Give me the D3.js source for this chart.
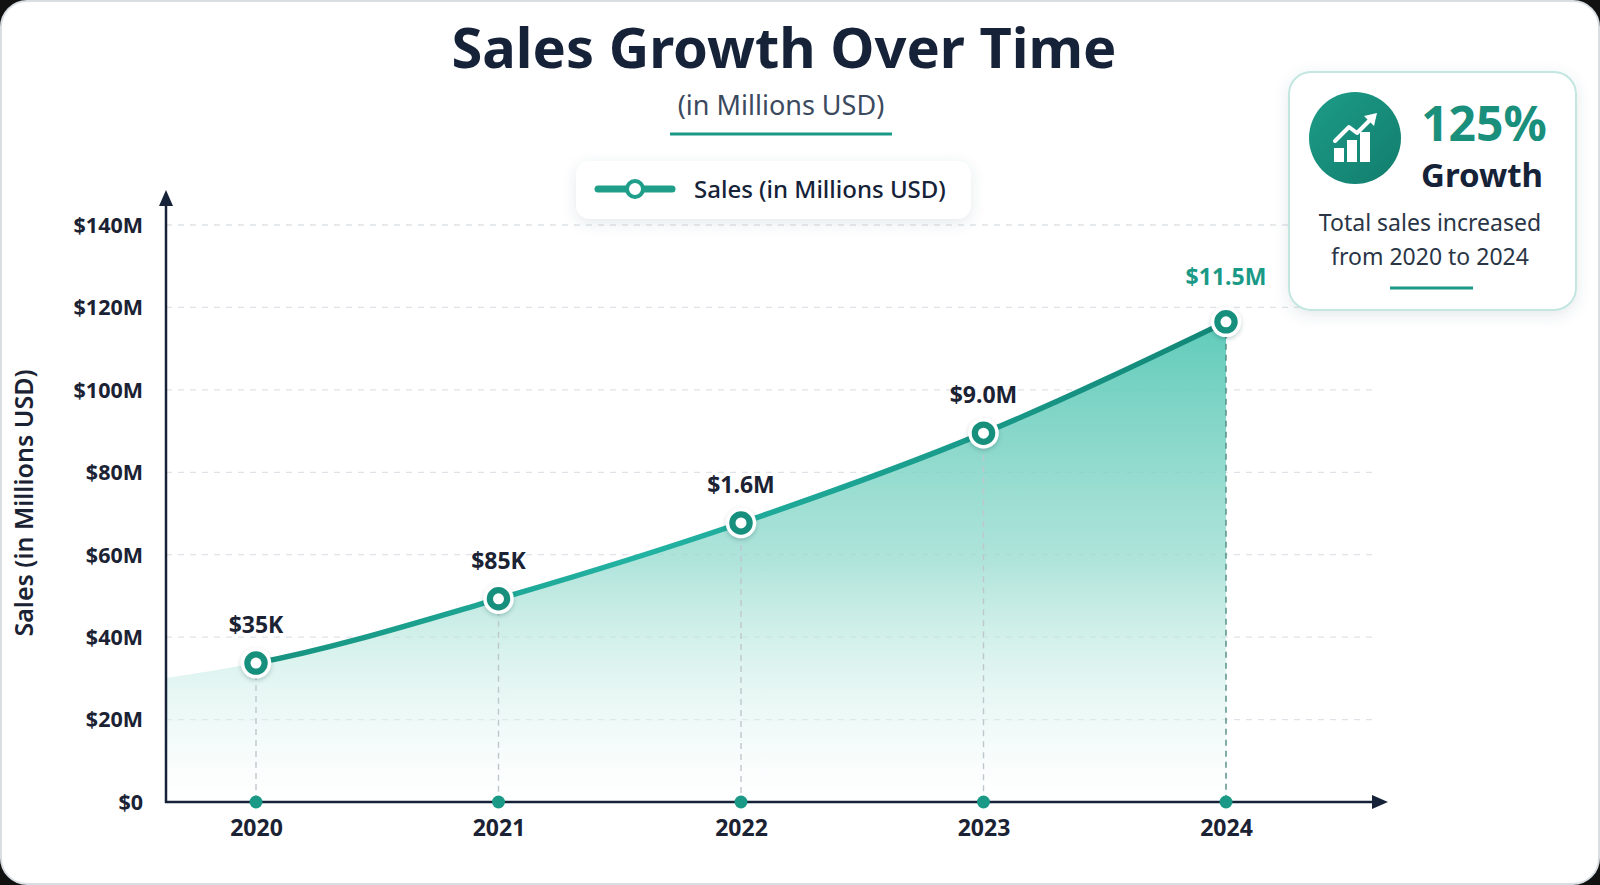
<!DOCTYPE html>
<html>
<head>
<meta charset="utf-8">
<script src="https://cdn.jsdelivr.net/npm/d3@7"></script>
<style>
  html, body { margin: 0; padding: 0; background: #111; }
  svg { display: block; font-family: 'Noto Sans', 'Open Sans', sans-serif; }
  .yAxis text, .xAxis text { font-family: 'Noto Sans', sans-serif; font-weight: 700; fill: #1a2233; }
</style>
</head>
<body>
<div id="chart"></div>
<script>
// values
const years = [2020, 2021, 2022, 2023, 2024]
const sales = [33.7, 49.3, 67.7, 89.5, 116.5]
const valueLabels = ['$35K', '$85K', '$1.6M', '$9.0M', '$11.5M']
const yTicks = [0, 20, 40, 60, 80, 100, 120, 140]
// where the filled area meets the y axis, left of 2020
const areaStartValue = 30.1

const width = 1600
const height = 885
const teal = '#1a9a86'
const ink = '#152238'

const svg = d3.select('#chart')
  .append('svg')
  .attr('width', width)
  .attr('height', height)

const defs = svg.append('defs')

const shadow = defs.append('filter').attr('id', 'shadow')
  .attr('x', '-20%').attr('y', '-30%').attr('width', '140%').attr('height', '170%')
shadow.append('feDropShadow')
  .attr('dx', 0).attr('dy', 4).attr('stdDeviation', 7)
  .attr('flood-color', '#4a6b70').attr('flood-opacity', 0.14)

const ringShadow = defs.append('filter').attr('id', 'ringShadow')
  .attr('x', '-50%').attr('y', '-50%').attr('width', '200%').attr('height', '200%')
ringShadow.append('feDropShadow')
  .attr('dx', 0).attr('dy', 2).attr('stdDeviation', 2)
  .attr('flood-color', '#0d4a42').attr('flood-opacity', 0.25)

// background card
svg.append('rect')
  .attr('x', 1).attr('y', 1)
  .attr('width', width - 2).attr('height', height - 2)
  .attr('rx', 26)
  .attr('fill', '#fff')
  .attr('stroke', '#d9dee3')
  .attr('stroke-width', 2)

// scales
const xScale = d3.scaleLinear().domain([2020, 2024]).range([256, 1226])
const yScale = d3.scaleLinear().domain([0, 140]).range([802, 225])
const x0 = 166
const xEnd = 1388
const gridEnd = 1372
const startYear = xScale.invert(x0)

const points = years.map((y, i) => ({ year: y, value: sales[i], label: valueLabels[i] }))

// title
svg.append('text')
  .attr('x', 784).attr('y', 68)
  .attr('text-anchor', 'middle')
  .style('font-size', '56px').style('font-weight', 700)
  .attr('fill', ink)
  .text('Sales Growth Over Time')

svg.append('text')
  .attr('x', 781).attr('y', 115)
  .attr('text-anchor', 'middle')
  .style('font-size', '27px')
  .attr('fill', '#3b4a5e')
  .text('(in Millions USD)')

svg.append('line')
  .attr('x1', 670).attr('x2', 892)
  .attr('y1', 134).attr('y2', 134)
  .attr('stroke', teal).attr('stroke-width', 3)

// grid lines
svg.append('g')
  .selectAll('line')
  .data(yTicks.filter(d => d > 0))
  .join('line')
  .attr('x1', x0).attr('x2', gridEnd)
  .attr('y1', d => yScale(d)).attr('y2', d => yScale(d))
  .attr('stroke', '#dfe3e7')
  .attr('stroke-width', 1.3)
  .attr('stroke-dasharray', '6,6')

// area
const areaGrad = defs.append('linearGradient')
  .attr('id', 'areaGrad')
  .attr('gradientUnits', 'userSpaceOnUse')
  .attr('x1', 0).attr('x2', 0)
  .attr('y1', yScale(d3.max(sales))).attr('y2', yScale(0))
areaGrad.append('stop').attr('offset', '0%').attr('stop-color', '#57c8b6').attr('stop-opacity', 0.95)
areaGrad.append('stop').attr('offset', '50%').attr('stop-color', '#95dbce').attr('stop-opacity', 0.75)
areaGrad.append('stop').attr('offset', '100%').attr('stop-color', '#ffffff').attr('stop-opacity', 0.3)

const areaData = [{ year: startYear, value: areaStartValue }].concat(points)

const area = d3.area()
  .x(d => xScale(d.year))
  .y0(yScale(0))
  .y1(d => yScale(d.value))
  .curve(d3.curveMonotoneX)

svg.append('path')
  .datum(areaData)
  .attr('d', area)
  .attr('fill', 'url(#areaGrad)')

// vertical guides
svg.append('g')
  .selectAll('line')
  .data(points)
  .join('line')
  .attr('x1', d => xScale(d.year)).attr('x2', d => xScale(d.year))
  .attr('y1', d => yScale(d.value)).attr('y2', yScale(0))
  .attr('stroke', (d, i) => i === points.length - 1 ? '#4f8a82' : '#bfc7ce')
  .attr('stroke-width', 1.4)
  .attr('stroke-dasharray', '6,5')

// line
const lineGrad = defs.append('linearGradient')
  .attr('id', 'lineGrad')
  .attr('gradientUnits', 'userSpaceOnUse')
  .attr('x1', xScale(2020)).attr('x2', xScale(2024))
  .attr('y1', 0).attr('y2', 0)
lineGrad.append('stop').attr('offset', '0%').attr('stop-color', '#17927f')
lineGrad.append('stop').attr('offset', '40%').attr('stop-color', '#22b3a3')
lineGrad.append('stop').attr('offset', '100%').attr('stop-color', '#128676')

const line = d3.line()
  .x(d => xScale(d.year))
  .y(d => yScale(d.value))
  .curve(d3.curveMonotoneX)

defs.append('clipPath').attr('id', 'lineClip')
  .append('rect')
  .attr('x', xScale(2020)).attr('y', 0)
  .attr('width', xScale(2024) - xScale(2020) + 10).attr('height', height)

svg.append('path')
  .datum(areaData)
  .attr('d', line)
  .attr('fill', 'none')
  .attr('stroke', 'url(#lineGrad)')
  .attr('stroke-width', 5.5)
  .attr('stroke-linecap', 'round')
  .attr('clip-path', 'url(#lineClip)')

// axes
const yAxis = d3.axisLeft(yScale)
  .tickValues(yTicks)
  .tickSize(0)
  .tickPadding(23)
  .tickFormat(d => d === 0 ? '$0' : '$' + d + 'M')

const yAxisG = svg.append('g')
  .attr('class', 'yAxis')
  .attr('transform', `translate(${x0},0)`)
  .call(yAxis)
yAxisG.select('.domain').remove()
yAxisG.selectAll('text').style('font-size', '21.5px').attr('dy', '0.34em')

const xAxis = d3.axisBottom(xScale)
  .tickValues(years)
  .tickSize(0)
  .tickPadding(18)
  .tickFormat(d3.format('d'))

const xAxisG = svg.append('g')
  .attr('class', 'xAxis')
  .attr('transform', `translate(0,${yScale(0)})`)
  .call(xAxis)
xAxisG.select('.domain').remove()
xAxisG.selectAll('text').style('font-size', '23px')

svg.append('line')
  .attr('x1', x0).attr('x2', x0)
  .attr('y1', yScale(0) + 1).attr('y2', 204)
  .attr('stroke', ink).attr('stroke-width', 2.5)
svg.append('path')
  .attr('d', `M${x0},190 L${x0 - 7},206 L${x0 + 7},206 Z`)
  .attr('fill', ink)

svg.append('line')
  .attr('x1', x0 - 1).attr('x2', xEnd - 14)
  .attr('y1', yScale(0)).attr('y2', yScale(0))
  .attr('stroke', ink).attr('stroke-width', 2.5)
svg.append('path')
  .attr('d', `M${xEnd},${yScale(0)} L${xEnd - 16},${yScale(0) - 7} L${xEnd - 16},${yScale(0) + 7} Z`)
  .attr('fill', ink)

// year dots on the axis
svg.append('g')
  .selectAll('circle')
  .data(points)
  .join('circle')
  .attr('cx', d => xScale(d.year))
  .attr('cy', yScale(0))
  .attr('r', 6.5)
  .attr('fill', teal)

svg.append('text')
  .attr('transform', 'translate(33,503) rotate(-90)')
  .attr('text-anchor', 'middle')
  .style('font-size', '25px').style('font-weight', 600)
  .attr('fill', '#1a2233')
  .text('Sales (in Millions USD)')

// markers
const marker = svg.append('g')
  .selectAll('g')
  .data(points)
  .join('g')
  .attr('transform', d => `translate(${xScale(d.year)},${yScale(d.value)})`)

marker.append('circle')
  .attr('r', 13.5)
  .attr('fill', '#178f7d')
  .attr('stroke', '#fff')
  .attr('stroke-width', 3.5)
  .attr('filter', 'url(#ringShadow)')
marker.append('circle')
  .attr('r', 5.5)
  .attr('fill', '#fff')

// value labels
svg.append('g')
  .selectAll('text')
  .data(points)
  .join('text')
  .attr('x', d => xScale(d.year))
  .attr('y', (d, i) => yScale(d.value) - (i === points.length - 1 ? 37 : 30))
  .attr('text-anchor', 'middle')
  .style('font-size', '23px')
  .style('font-weight', 700)
  .attr('fill', (d, i) => i === points.length - 1 ? teal : '#1a2233')
  .text(d => d.label)

// legend
const legend = svg.append('g')
legend.append('rect')
  .attr('x', 576).attr('y', 161)
  .attr('width', 395).attr('height', 58)
  .attr('rx', 14)
  .attr('fill', '#fff')
  .attr('filter', 'url(#shadow)')
legend.append('line')
  .attr('x1', 598).attr('x2', 672)
  .attr('y1', 189).attr('y2', 189)
  .attr('stroke', '#1f9e8a').attr('stroke-width', 7)
  .attr('stroke-linecap', 'round')
legend.append('circle')
  .attr('cx', 635).attr('cy', 189).attr('r', 8)
  .attr('fill', '#fff')
  .attr('stroke', '#1f9e8a').attr('stroke-width', 4)
legend.append('text')
  .attr('x', 694).attr('y', 198)
  .style('font-size', '24px').style('font-weight', 500)
  .attr('fill', ink)
  .text('Sales (in Millions USD)')

// growth card
const card = svg.append('g')
card.append('rect')
  .attr('x', 1289).attr('y', 72)
  .attr('width', 287).attr('height', 238)
  .attr('rx', 22)
  .attr('fill', '#fff')
  .attr('stroke', '#c4e6e1')
  .attr('stroke-width', 2)
  .attr('filter', 'url(#shadow)')

const iconGrad = defs.append('linearGradient')
  .attr('id', 'iconGrad')
  .attr('x1', 0).attr('x2', 1).attr('y1', 0).attr('y2', 1)
iconGrad.append('stop').attr('offset', '0%').attr('stop-color', '#1c9c88')
iconGrad.append('stop').attr('offset', '100%').attr('stop-color', '#127d6d')

const icon = card.append('g').attr('transform', 'translate(1355,138)')
icon.append('circle').attr('r', 46).attr('fill', 'url(#iconGrad)')
icon.selectAll('rect')
  .data([[-21, 10], [-8, 2], [5, -6]])
  .join('rect')
  .attr('x', d => d[0]).attr('y', d => d[1])
  .attr('width', 10).attr('height', d => 24 - d[1])
  .attr('fill', '#fff')
icon.append('path')
  .attr('d', 'M-20,3 L-6,-11 L2,-5 L16,-19')
  .attr('fill', 'none')
  .attr('stroke', '#fff').attr('stroke-width', 4)
  .attr('stroke-linecap', 'round').attr('stroke-linejoin', 'round')
icon.append('path')
  .attr('d', 'M22,-25 L9,-22 L19,-12 Z')
  .attr('fill', '#fff')

card.append('text')
  .attr('x', 1484).attr('y', 141)
  .attr('text-anchor', 'middle')
  .style('font-size', '48px').style('font-weight', 700)
  .attr('fill', '#1a8f7c')
  .text('125%')
card.append('text')
  .attr('x', 1482).attr('y', 187)
  .attr('text-anchor', 'middle')
  .style('font-size', '33px').style('font-weight', 700)
  .attr('fill', ink)
  .text('Growth')
card.append('text')
  .attr('x', 1430).attr('y', 231)
  .attr('text-anchor', 'middle')
  .style('font-size', '23px')
  .attr('fill', '#2a3646')
  .text('Total sales increased')
card.append('text')
  .attr('x', 1430).attr('y', 265)
  .attr('text-anchor', 'middle')
  .style('font-size', '23px')
  .attr('fill', '#2a3646')
  .text('from 2020 to 2024')
card.append('line')
  .attr('x1', 1390).attr('x2', 1473)
  .attr('y1', 288).attr('y2', 288)
  .attr('stroke', teal).attr('stroke-width', 3)
</script>
</body>
</html>
